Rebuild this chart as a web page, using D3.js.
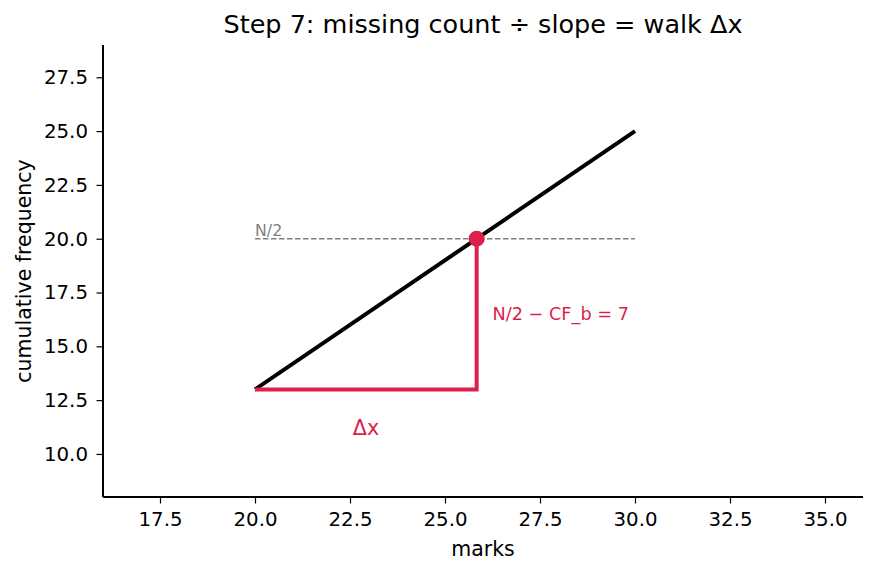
<!DOCTYPE html>
<html>
<head>
<meta charset="utf-8">
<script src="https://cdn.jsdelivr.net/npm/d3@7"></script>
<style>
  body { margin: 0; background: #fff; }
  svg { font-family: "DejaVu Sans", sans-serif; }
</style>
</head>
<body>
<svg id="chart" width="876" height="573"></svg>
<script>
const xDomain = [16, 36];
const yDomain = [8, 29];
const xTicks = [17.5, 20, 22.5, 25, 27.5, 30, 32.5, 35];
const yTicks = [10, 12.5, 15, 17.5, 20, 22.5, 25, 27.5];
const ogiveX = [20, 30];
const ogiveY = [13, 25];
const halfN = 20;
const cfBelow = 13;
const slope = (ogiveY[1] - ogiveY[0]) / (ogiveX[1] - ogiveX[0]);
const medianX = ogiveX[0] + (halfN - cfBelow) / slope;
const titleText = "Step 7: missing count \u00f7 slope = walk \u0394x";
const xLabel = "marks";
const yLabel = "cumulative frequency";
const gapLabel = "N/2 \u2212 CF_b = 7";
const dxLabel = "\u0394x";
const halfLabel = "N/2";
const dxLabelPos = [22.92, 11.2];
const gapLabelPos = [26.25, 16.5];

const red = "#dc1f4b";
const svg = d3.select("#chart");
const mLeft = 103, mRight = 863, mTop = 45, mBottom = 497;
const x = d3.scaleLinear().domain(xDomain).range([mLeft, mRight]);
const y = d3.scaleLinear().domain(yDomain).range([mBottom, mTop]);

// axes
const xAxis = svg.append("g").attr("transform", `translate(0,${mBottom})`)
  .call(d3.axisBottom(x).tickValues(xTicks).tickFormat(d3.format(".1f")).tickSize(6.5).tickPadding(8.5));
const yAxis = svg.append("g").attr("transform", `translate(${mLeft},0)`)
  .call(d3.axisLeft(y).tickValues(yTicks).tickFormat(d3.format(".1f")).tickSize(6.5).tickPadding(8.5));
[xAxis, yAxis].forEach(g => {
  g.selectAll("text").attr("font-size", 19.8).attr("fill", "#000").attr("font-family", "DejaVu Sans");
  g.selectAll(".tick line").attr("stroke", "#000").attr("stroke-width", 1.2);
  g.select(".domain").attr("stroke", "#000").attr("stroke-width", 2);
});
xAxis.select(".domain").attr("d", `M${mLeft},0H${mRight}`);
yAxis.select(".domain").attr("d", `M0,${mBottom}V${mTop}`);

// dashed N/2 line
svg.append("line")
  .attr("x1", x(ogiveX[0])).attr("x2", x(ogiveX[1]))
  .attr("y1", y(halfN)).attr("y2", y(halfN))
  .attr("stroke", "#808080").attr("stroke-width", 1.5).attr("stroke-dasharray", "5.5,2.5");
svg.append("text").attr("x", x(ogiveX[0])).attr("y", y(halfN) - 3)
  .attr("font-size", 15.8).attr("fill", "#808080").text(halfLabel);

// ogive line
const line = d3.line().x(d => x(d[0])).y(d => y(d[1]));
svg.append("path").datum(ogiveX.map((v, i) => [v, ogiveY[i]]))
  .attr("d", line).attr("fill", "none").attr("stroke", "#000").attr("stroke-width", 4);

// red triangle legs
svg.append("path").datum([[ogiveX[0], cfBelow], [medianX, cfBelow], [medianX, halfN]])
  .attr("d", line).attr("fill", "none").attr("stroke", red).attr("stroke-width", 4)
  .attr("stroke-linejoin", "miter");

// point
svg.append("circle").attr("cx", x(medianX)).attr("cy", y(halfN)).attr("r", 8).attr("fill", red);

// labels
svg.append("text").attr("x", x(gapLabelPos[0])).attr("y", y(gapLabelPos[1]))
  .attr("dominant-baseline", "central").attr("font-size", 17.7).attr("fill", red).text(gapLabel);
svg.append("text").attr("x", x(dxLabelPos[0])).attr("y", y(dxLabelPos[1]))
  .attr("text-anchor", "middle").attr("dominant-baseline", "central")
  .attr("font-size", 20.7).attr("fill", red).text(dxLabel);

// title and axis labels
svg.append("text").attr("x", (mLeft + mRight) / 2).attr("y", 33)
  .attr("text-anchor", "middle").attr("font-size", 25.5).attr("fill", "#000").text(titleText);
svg.append("text").attr("x", (mLeft + mRight) / 2).attr("y", 556)
  .attr("text-anchor", "middle").attr("font-size", 20.5).attr("fill", "#000").text(xLabel);
svg.append("text").attr("transform", `translate(31,${(mTop + mBottom) / 2}) rotate(-90)`)
  .attr("text-anchor", "middle").attr("font-size", 20.5).attr("fill", "#000").text(yLabel);
</script>
</body>
</html>
